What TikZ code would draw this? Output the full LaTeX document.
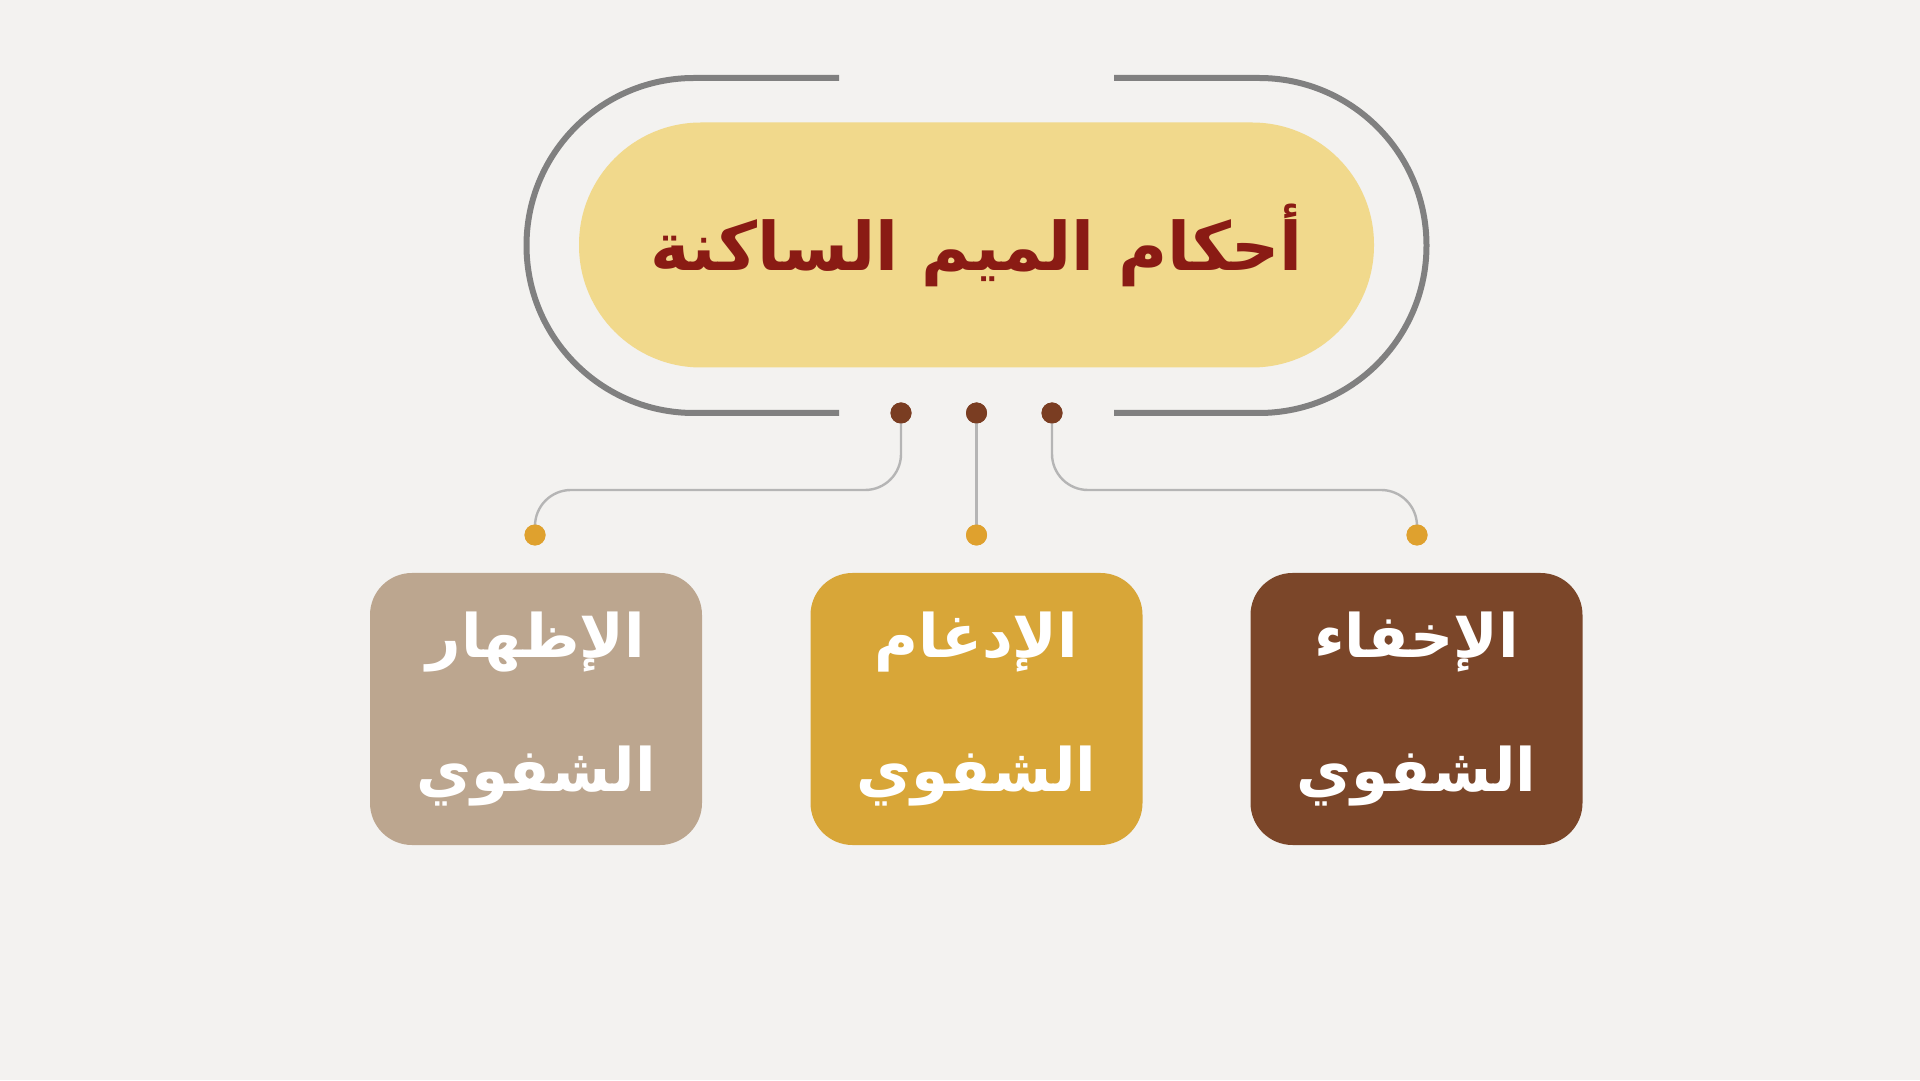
\documentclass[tikz,border=0pt]{standalone}
\usepackage{fontspec}
\newfontfamily\arabicfont[Script=Arabic]{DejaVu Sans}
\TeXXeTstate=1
\definecolor{bg}{HTML}{F3F2F0}
\definecolor{pillc}{HTML}{F1D98C}
\definecolor{titlec}{HTML}{8A1B14}
\definecolor{outerc}{HTML}{808080}
\definecolor{connc}{HTML}{B5B5B5}
\definecolor{browndot}{HTML}{7A3D22}
\definecolor{golddot}{HTML}{DFA12E}
\definecolor{taupe}{HTML}{BCA68F}
\definecolor{goldbox}{HTML}{D8A638}
\definecolor{brownbox}{HTML}{7B4629}
\begin{document}
\begin{tikzpicture}[x=1pt,y=1pt,
  outerline/.style={draw=outerc,line width=6pt},
  conn/.style={draw=connc,line width=2.4pt,rounded corners=36pt},
  bdot/.style={circle,fill=browndot,inner sep=0pt,minimum size=21pt},
  gdot/.style={circle,fill=golddot,inner sep=0pt,minimum size=21pt},
  cat/.style={rounded corners=42pt,minimum width=332pt,minimum height=272pt,inner sep=0pt,
    text=white,align=center,font=\arabicfont\bfseries\fontsize{60}{134}\selectfont}]
\fill[bg] (0,0) rectangle (1920,1080);
\useasboundingbox (0,0) rectangle (1920,1080);
% outer bracket
\draw[outerline] (839,1002) -- (694,1002) arc[start angle=90,end angle=270,radius=167.5] -- (839,667);
\draw[outerline] (1114,1002) -- (1259,1002) arc[start angle=90,end angle=-90,radius=167.5] -- (1114,667);
% title pill
\node[fill=pillc,minimum width=795pt,minimum height=245pt,rounded corners=122pt,inner sep=0pt,
  text=titlec,font=\arabicfont\bfseries\fontsize{67}{80}\selectfont] (title) at (976.5,835)
  {\beginR أحكام الميم الساكنة\endR};
% dots
\node[bdot] (b1) at (901,667) {};
\node[bdot] (b2) at (976.5,667) {};
\node[bdot] (b3) at (1052,667) {};
\node[gdot] (g1) at (535,545) {};
\node[gdot] (g2) at (976.5,545) {};
\node[gdot] (g3) at (1417,545) {};
\coordinate (h1) at (535,590);
\coordinate (h3) at (1417,590);
% connectors
\draw[conn] (b1.center) |- (h1) -- (g1.center);
\draw[conn] (b2.center) -- (g2.center);
\draw[conn] (b3.center) |- (h3) -- (g3.center);
\node[bdot] at (b1) {};
\node[bdot] at (b2) {};
\node[bdot] at (b3) {};
\node[gdot] at (g1) {};
\node[gdot] at (g2) {};
\node[gdot] at (g3) {};
% boxes
\node[cat,fill=taupe] (izhar) at (536,371) {\beginR الإظهار\endR\\\beginR الشفوي\endR};
\node[cat,fill=goldbox] (idgham) at (976.5,371) {\beginR الإدغام\endR\\\beginR الشفوي\endR};
\node[cat,fill=brownbox] (ikhfa) at (1416.5,371) {\beginR الإخفاء\endR\\\beginR الشفوي\endR};
\end{tikzpicture}
\end{document}
